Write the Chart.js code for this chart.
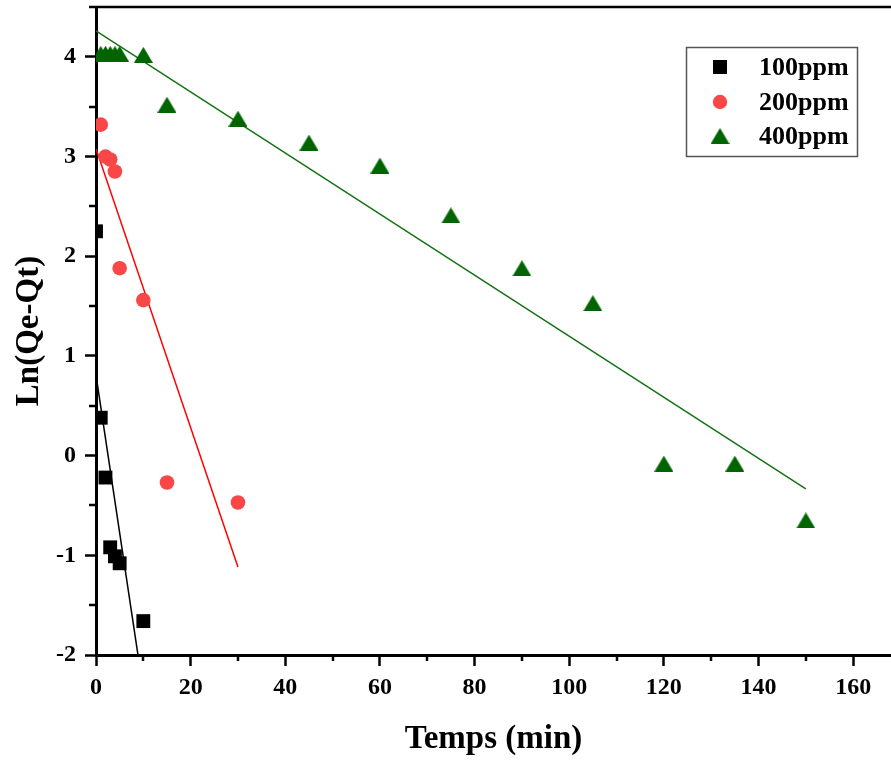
<!DOCTYPE html>
<html>
<head>
<meta charset="utf-8">
<script src="https://cdn.jsdelivr.net/npm/chart.js@4.4.1/dist/chart.umd.min.js"></script>
<style>
  html, body { margin: 0; padding: 0; background: #fff; }
  #wrap { width: 891px; height: 763px; }
</style>
</head>
<body>
<div id="wrap"><canvas id="kineticChart" width="891" height="763"></canvas></div>
<script>
// values
const time100 = [0, 1, 2, 3, 4, 5, 10];
const ln100 = [2.25, 0.38, -0.22, -0.92, -1.01, -1.08, -1.66];

const time200 = [1, 2, 3, 4, 5, 10, 15, 30];
const ln200 = [3.32, 3.00, 2.97, 2.85, 1.88, 1.56, -0.27, -0.47];

const time400 = [1, 2, 3, 4, 5, 10, 15, 30, 45, 60, 75, 90, 105, 120, 135, 150];
const ln400 = [4.03, 4.03, 4.03, 4.03, 4.03, 4.02, 3.52, 3.38, 3.14, 2.91, 2.41, 1.88, 1.53, -0.08, -0.08, -0.65];

const seriesNames = ['100ppm', '200ppm', '400ppm'];
const xTickValues = [0, 20, 40, 60, 80, 100, 120, 140, 160];
const yTickValues = [-2, -1, 0, 1, 2, 3, 4];

const SERIF = '"Liberation Serif", "Times New Roman", serif';
const BLACK = '#000000';
const RED = '#f94646';
const GREEN = '#006400';

// helpers

function points(xs, ys) {
  return xs.map((x, i) => ({ x: x, y: ys[i] }));
}

// least squares line, drawn from t = 0 to the last time
function fitLine(xs, ys) {
  const n = xs.length;
  const mx = xs.reduce((a, b) => a + b, 0) / n;
  const my = ys.reduce((a, b) => a + b, 0) / n;
  let sxy = 0, sxx = 0;
  xs.forEach((x, i) => {
    sxy += (x - mx) * (ys[i] - my);
    sxx += (x - mx) * (x - mx);
  });
  const slope = sxy / sxx;
  const icpt = my - slope * mx;
  const xEnd = Math.max(...xs);
  return [{ x: 0, y: icpt }, { x: xEnd, y: icpt + slope * xEnd }];
}

// triangle marker centred on its box (like Origin)
function triangleMarker(w, h, color) {
  const c = document.createElement('canvas');
  c.width = w;
  c.height = h;
  const g = c.getContext('2d');
  g.fillStyle = color;
  g.beginPath();
  g.moveTo(w / 2, 0);
  g.lineTo(w, h);
  g.lineTo(0, h);
  g.closePath();
  g.fill();
  return c;
}

const triangle = triangleMarker(19, 16, GREEN);

// minor ticks + top frame

const frameAndMinor = {
  id: 'frameAndMinor',
  afterDraw(chart) {
    const { ctx, chartArea } = chart;
    const xs = chart.scales.x;
    const ys = chart.scales.y;
    ctx.save();
    ctx.strokeStyle = BLACK;
    ctx.lineWidth = 2.5;
    ctx.beginPath();
    for (let v = 10; v <= xs.max; v += 20) {
      const px = Math.round(xs.getPixelForValue(v));
      ctx.moveTo(px, chartArea.bottom);
      ctx.lineTo(px, chartArea.bottom + 6);
    }
    for (let v = -1.5; v <= ys.max + 1e-6; v += 1) {
      const py = Math.round(ys.getPixelForValue(v));
      ctx.moveTo(chartArea.left - 7, py);
      ctx.lineTo(chartArea.left, py);
    }
    ctx.stroke();

    ctx.beginPath();
    ctx.moveTo(chartArea.left, chartArea.top);
    ctx.lineTo(chartArea.right, chartArea.top);
    ctx.stroke();
    ctx.restore();
  }
};

// boxed legend in the top right corner

const boxLegend = {
  id: 'boxLegend',
  afterDraw(chart) {
    const { ctx } = chart;
    const left = 686, top = 47, w = 171, h = 109;
    const markX = 720, textX = 759;
    const rowY = [67, 102, 136];

    ctx.save();
    ctx.strokeStyle = '#555555';
    ctx.lineWidth = 1.5;
    ctx.strokeRect(left + 0.5, top + 0.5, w, h);

    // 100ppm square
    ctx.fillStyle = BLACK;
    ctx.fillRect(markX - 7, rowY[0] - 7, 14, 14);
    // 200ppm circle
    ctx.fillStyle = RED;
    ctx.beginPath();
    ctx.arc(markX, rowY[1], 7.2, 0, Math.PI * 2);
    ctx.fill();
    // 400ppm triangle
    ctx.drawImage(triangle, markX - triangle.width / 2, rowY[2] - triangle.height / 2);

    ctx.fillStyle = BLACK;
    ctx.font = 'bold 26px ' + SERIF;
    ctx.textAlign = 'left';
    ctx.textBaseline = 'middle';
    seriesNames.forEach((name, i) => {
      ctx.fillText(name, textX, rowY[i] + 1);
    });
    ctx.restore();
  }
};

// CHART

const ctx = document.getElementById('kineticChart');

const axisFont = { family: SERIF, size: 24, weight: 'bold' };

const kineticChart = new Chart(ctx, {
  type: 'scatter',
  data: {
    datasets: [
      {
        label: seriesNames[0],
        data: points(time100, ln100),
        pointStyle: 'rect',
        pointRadius: 9.8,
        pointBorderWidth: 0,
        backgroundColor: BLACK,
        clip: 0
      },
      {
        label: seriesNames[1],
        data: points(time200, ln200),
        pointStyle: 'circle',
        pointRadius: 7.3,
        pointBorderWidth: 0,
        backgroundColor: RED,
        clip: 0
      },
      {
        label: seriesNames[2],
        data: points(time400, ln400),
        pointStyle: triangle,
        pointRadius: 9,
        pointBorderWidth: 0,
        backgroundColor: GREEN,
        clip: 0
      },
      {
        label: 'fit 100',
        data: fitLine(time100, ln100),
        showLine: true,
        borderColor: BLACK,
        borderWidth: 1.5,
        pointRadius: 0,
        clip: 0
      },
      {
        label: 'fit 200',
        data: fitLine(time200, ln200),
        showLine: true,
        borderColor: '#ff0000',
        borderWidth: 1.5,
        pointRadius: 0,
        clip: 0
      },
      {
        label: 'fit 400',
        data: fitLine(time400, ln400),
        showLine: true,
        borderColor: '#137313',
        borderWidth: 1.5,
        pointRadius: 0,
        clip: 0
      }
    ]
  },
  options: {
    responsive: false,
    animation: false,
    layout: { autoPadding: false, padding: { top: 7, right: 0, left: 0, bottom: 0 } },
    plugins: {
      legend: { display: false },
      tooltip: { enabled: false }
    },
    scales: {
      x: {
        type: 'linear',
        min: 0,
        max: 168,
        z: 1,
        afterFit: s => {
          s.height = 108;
          s.paddingLeft = 0;
          s.paddingRight = 0;
        },
        afterBuildTicks: s => { s.ticks = xTickValues.map(v => ({ value: v })); },
        ticks: {
          includeBounds: false,
          autoSkip: false,
          maxRotation: 0,
          padding: 7,
          color: BLACK,
          font: axisFont,
          callback: v => String(v)
        },
        grid: {
          drawOnChartArea: false,
          tickLength: 11,
          tickWidth: 2.5,
          tickColor: BLACK
        },
        border: { color: BLACK, width: 3 },
        title: {
          display: true,
          text: 'Temps (min)',
          color: BLACK,
          font: { family: SERIF, size: 33, weight: 'bold', lineHeight: 1 },
          padding: { top: 0, bottom: 7 }
        }
      },
      y: {
        type: 'linear',
        min: -2,
        max: 4.5,
        z: 1,
        afterFit: s => {
          s.width = 96;
          s.paddingTop = 0;
          s.paddingBottom = 0;
        },
        afterBuildTicks: s => { s.ticks = yTickValues.map(v => ({ value: v })); },
        ticks: {
          includeBounds: false,
          autoSkip: false,
          padding: 9,
          color: BLACK,
          font: axisFont,
          callback: v => String(v)
        },
        grid: {
          drawOnChartArea: false,
          tickLength: 11,
          tickWidth: 2.5,
          tickColor: BLACK
        },
        border: { color: BLACK, width: 3 },
        title: {
          display: true,
          text: 'Ln(Qe-Qt)',
          color: BLACK,
          font: { family: SERIF, size: 33, weight: 'bold', lineHeight: 1 },
          padding: { top: 13, bottom: 0 }
        }
      }
    }
  },
  plugins: [frameAndMinor, boxLegend]
});
</script>
</body>
</html>
